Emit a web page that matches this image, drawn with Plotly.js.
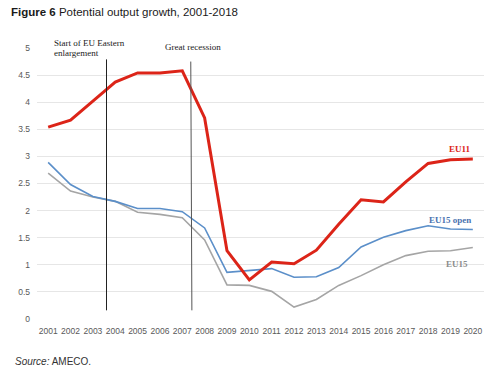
<!DOCTYPE html>
<html>
<head>
<meta charset="utf-8">
<script src="https://cdn.plot.ly/plotly-3.0.1.min.js"></script>
<style>html,body{margin:0;padding:0;background:#fff;}#chart{width:500px;height:370px;}</style>
</head>
<body>
<div id="chart"></div>
<script>
const years = ["2001","2002","2003","2004","2005","2006","2007","2008","2009","2010","2011","2012","2013","2014","2015","2016","2017","2018","2019","2020"];
const eu11 =     [3.54,3.67,4.02,4.37,4.54,4.54,4.58,3.71,1.26,0.72,1.05,1.02,1.27,1.75,2.20,2.16,2.53,2.87,2.94,2.95];
const eu15open = [2.89,2.48,2.26,2.17,2.04,2.04,1.98,1.68,0.86,0.89,0.93,0.77,0.78,0.95,1.33,1.51,1.63,1.72,1.66,1.65];
const eu15 =     [2.69,2.36,2.25,2.17,1.97,1.93,1.87,1.46,0.63,0.62,0.51,0.22,0.36,0.62,0.80,1.00,1.17,1.25,1.26,1.32];
const yTicks = [0,0.5,1,1.5,2,2.5,3,3.5,4,4.5,5];
const eventNames = ["Start of EU Eastern", "enlargement", "Great recession"];

const serif = "Liberation Serif, Times New Roman, serif";
const sans = "Liberation Sans, Arial, sans-serif";

const traces = [
  {x: years, y: eu15, type: "scatter", mode: "lines", name: "EU15", line: {color: "#a5a5a5", width: 1.6}},
  {x: years, y: eu15open, type: "scatter", mode: "lines", name: "EU15 open", line: {color: "#5b8fc9", width: 1.6}},
  {x: years, y: eu11, type: "scatter", mode: "lines", name: "EU11", line: {color: "#dc2418", width: 3}}
];

const layout = {
  width: 500, height: 370,
  margin: {l: 36.5, r: 16, t: 47.5, b: 50.5, pad: 0},
  paper_bgcolor: "#fff", plot_bgcolor: "#fff",
  showlegend: false,
  title: {text: "<b>Figure 6</b> Potential output growth, 2001-2018", font: {family: sans, size: 11.5, color: "#1a1a1a"},
          xref: "container", yref: "container", x: 0.022, xanchor: "left", y: 0.968, yanchor: "middle"},
  xaxis: {type: "category", range: [-0.5, 19.5], showgrid: false, zeroline: false, showline: false, ticks: "",
          ticklabelstandoff: 5,
          tickfont: {family: sans, size: 8.5, color: "#595959"}, fixedrange: true},
  yaxis: {range: [0, 5], tickvals: yTicks, ticktext: yTicks.map(String), showgrid: true, gridcolor: "#e6e6e6", gridwidth: 1,
          zeroline: false, showline: false, ticks: "", ticklabelstandoff: 6,
          tickfont: {family: sans, size: 8.5, color: "#595959"}, fixedrange: true},
  shapes: [
    {type: "line", xref: "x", yref: "y", x0: 2.61, x1: 2.61, y0: 0.16, y1: 4.79, line: {color: "#222", width: 1}},
    {type: "line", xref: "x", yref: "y", x0: 6.38, x1: 6.43, y0: 4.75, y1: 0.16, line: {color: "#555", width: 1}}
  ],
  annotations: [
    {text: eventNames[0], xref: "x", yref: "paper", x: 0.15, y: 1.0176, xanchor: "left", yanchor: "middle", showarrow: false,
     font: {family: serif, size: 9, color: "#1a1a1a"}},
    {text: eventNames[1], xref: "x", yref: "paper", x: 0.15, y: 0.981, xanchor: "left", yanchor: "middle", showarrow: false,
     font: {family: serif, size: 9, color: "#1a1a1a"}},
    {text: eventNames[2], xref: "x", yref: "paper", x: 5.14, y: 1.0055, xanchor: "left", yanchor: "middle", showarrow: false,
     font: {family: serif, size: 9, color: "#1a1a1a"}},
    {text: "<b>EU11</b>", xref: "x", yref: "y", x: 19.0, y: 3.13, xanchor: "right", yanchor: "middle", showarrow: false,
     font: {family: serif, size: 9, color: "#dc2418"}},
    {text: "<b>EU15 open</b>", xref: "x", yref: "y", x: 19.0, y: 1.83, xanchor: "right", yanchor: "middle", showarrow: false,
     font: {family: serif, size: 9, color: "#4a72b0"}},
    {text: "<b>EU15</b>", xref: "x", yref: "y", x: 18.88, y: 1.02, xanchor: "right", yanchor: "middle", showarrow: false,
     font: {family: serif, size: 9, color: "#8c8c8c"}},
    {text: "<i>Source:</i> AMECO.", xref: "paper", yref: "paper", x: -0.0547, y: -0.155, xanchor: "left", yanchor: "middle", showarrow: false,
     font: {family: sans, size: 10, color: "#333"}}
  ]
};

Plotly.newPlot("chart", traces, layout, {staticPlot: true, displayModeBar: false});
</script>
</body>
</html>
